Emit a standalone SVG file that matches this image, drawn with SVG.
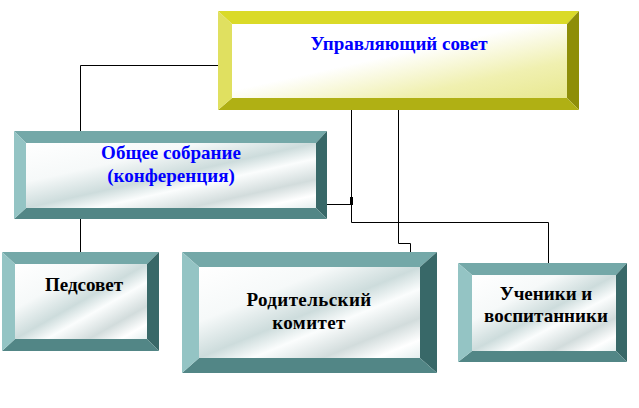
<svg xmlns="http://www.w3.org/2000/svg" width="639" height="408" viewBox="0 0 639 408">
<defs>
<linearGradient id="gy" x1="0" y1="0" x2="1" y2="1">
<stop offset="0" stop-color="#ffffff"/>
<stop offset="0.45" stop-color="#ffffff"/>
<stop offset="0.75" stop-color="#f0f0b0"/>
<stop offset="1" stop-color="#e8e890"/>
</linearGradient>
<linearGradient id="gt" x1="0" y1="0" x2="1" y2="1">
<stop offset="0" stop-color="#ffffff"/>
<stop offset="0.3" stop-color="#f6f9f9"/>
<stop offset="0.5" stop-color="#cddcdc"/>
<stop offset="0.62" stop-color="#fbfdfd"/>
<stop offset="0.78" stop-color="#d2dcdc"/>
<stop offset="0.9" stop-color="#ffffff"/>
<stop offset="1" stop-color="#e4eeee"/>
</linearGradient>
<style>
.yt{fill:#dada28}.yl{fill:#e0e060}.yr{fill:#8e8e08}.yb{fill:#b0b014}
.tt{fill:#74a8a8}.tl{fill:#94c4c4}.tr{fill:#386868}.tb{fill:#528686}
.fy{fill:url(#gy)}.ft{fill:url(#gt)}
.lbl{font-family:"Liberation Serif","Times New Roman",serif;font-weight:bold;font-size:19px;text-anchor:middle}
.blue{fill:#0000ff}.black{fill:#000000}
.con{fill:none;stroke:#000;stroke-width:1}
</style>
</defs>
<rect width="639" height="408" fill="#ffffff"/>
<g id="connectors">
<path class="con" d="M218,65.5 H80.5 V131"/>
<path class="con" d="M80.5,219 V252"/>
<path class="con" d="M351.5,110 V222.5 H548.5 V263"/>
<path class="con" d="M327,204.5 H351"/>
<path class="con" d="M398.5,110 V243.5 H410.5 V252"/>
<rect x="350" y="197" width="3" height="8" fill="#000"/>
</g>
<g id="node-council">
<polygon class="yt" points="218,11 579,11 567,24 232,24"/>
<polygon class="yr" points="579,11 579,110 567,98 567,24"/>
<polygon class="yb" points="218,110 579,110 567,98 232,98"/>
<polygon class="yl" points="218,11 232,24 232,98 218,110"/>
<rect class="fy" x="232" y="24" width="335" height="74"/>
<text class="lbl blue" x="399" y="50">Управляющий совет</text>
</g>
<g id="node-assembly">
<polygon class="tt" points="14,131 327,131 316,143 26,143"/>
<polygon class="tr" points="327,131 327,219 316,208 316,143"/>
<polygon class="tb" points="14,219 327,219 316,208 26,208"/>
<polygon class="tl" points="14,131 26,143 26,208 14,219"/>
<rect class="ft" x="26" y="143" width="290" height="65"/>
<text class="lbl blue" x="171" y="159">Общее собрание</text>
<text class="lbl blue" x="171" y="182">(конференция)</text>
</g>
<g id="node-pedsovet">
<polygon class="tt" points="2,252 159,252 147,264 15,264"/>
<polygon class="tr" points="159,252 159,351 147,339 147,264"/>
<polygon class="tb" points="2,351 159,351 147,339 15,339"/>
<polygon class="tl" points="2,252 15,264 15,339 2,351"/>
<rect class="ft" x="15" y="264" width="132" height="75"/>
<text class="lbl black" x="84" y="291">Педсовет</text>
</g>
<g id="node-parents">
<polygon class="tt" points="182,252 437,252 420,267 199,267"/>
<polygon class="tr" points="437,252 437,373 420,358 420,267"/>
<polygon class="tb" points="182,373 437,373 420,358 199,358"/>
<polygon class="tl" points="182,252 199,267 199,358 182,373"/>
<rect class="ft" x="199" y="267" width="221" height="91"/>
<text class="lbl black" x="309" y="306" letter-spacing="0.4">Родительский</text>
<text class="lbl black" x="309" y="329" letter-spacing="0.4">комитет</text>
</g>
<g id="node-students">
<polygon class="tt" points="458,263 627,263 616,275 472,275"/>
<polygon class="tr" points="627,263 627,362 616,351 616,275"/>
<polygon class="tb" points="458,362 627,362 616,351 472,351"/>
<polygon class="tl" points="458,263 472,275 472,351 458,362"/>
<rect class="ft" x="472" y="275" width="144" height="76"/>
<text class="lbl black" x="546" y="300">Ученики и</text>
<text class="lbl black" x="546" y="322">воспитанники</text>
</g>
</svg>
